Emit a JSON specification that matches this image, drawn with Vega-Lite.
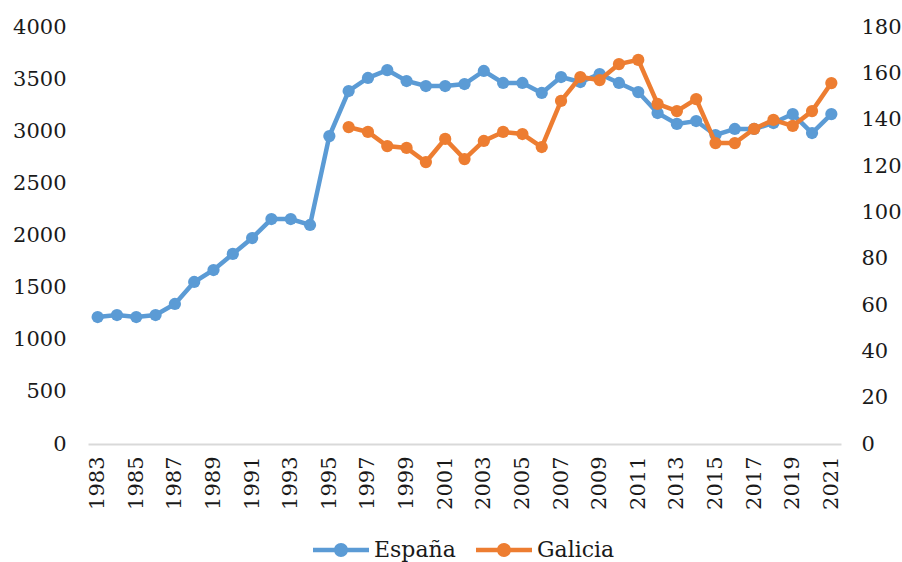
{
  "$schema": "https://vega.github.io/schema/vega-lite/v6.json",
  "width": 753,
  "height": 417,
  "autosize": {"type": "none"},
  "padding": {"left": 88, "top": 27, "right": 61, "bottom": 118},
  "background": "white",
  "config": {
    "view": {"stroke": null},
    "font": "DejaVu Serif",
    "axis": {"labelFont": "DejaVu Serif", "labelFontSize": 21, "labelColor": "#1a1a1a", "grid": false, "ticks": false, "title": null}
  },
  "data": {
    "values": [
      {"year": 1983, "serie": "España", "value": 1218},
      {"year": 1984, "serie": "España", "value": 1237},
      {"year": 1985, "serie": "España", "value": 1218},
      {"year": 1986, "serie": "España", "value": 1237},
      {"year": 1987, "serie": "España", "value": 1343},
      {"year": 1988, "serie": "España", "value": 1554},
      {"year": 1989, "serie": "España", "value": 1669},
      {"year": 1990, "serie": "España", "value": 1823},
      {"year": 1991, "serie": "España", "value": 1976},
      {"year": 1992, "serie": "España", "value": 2158},
      {"year": 1993, "serie": "España", "value": 2158},
      {"year": 1994, "serie": "España", "value": 2101},
      {"year": 1995, "serie": "España", "value": 2954},
      {"year": 1996, "serie": "España", "value": 3386},
      {"year": 1997, "serie": "España", "value": 3511},
      {"year": 1998, "serie": "España", "value": 3587},
      {"year": 1999, "serie": "España", "value": 3482},
      {"year": 2000, "serie": "España", "value": 3434},
      {"year": 2001, "serie": "España", "value": 3434},
      {"year": 2002, "serie": "España", "value": 3453},
      {"year": 2003, "serie": "España", "value": 3578},
      {"year": 2004, "serie": "España", "value": 3463},
      {"year": 2005, "serie": "España", "value": 3463},
      {"year": 2006, "serie": "España", "value": 3367},
      {"year": 2007, "serie": "España", "value": 3520},
      {"year": 2008, "serie": "España", "value": 3472},
      {"year": 2009, "serie": "España", "value": 3549},
      {"year": 2010, "serie": "España", "value": 3463},
      {"year": 2011, "serie": "España", "value": 3376},
      {"year": 2012, "serie": "España", "value": 3175},
      {"year": 2013, "serie": "España", "value": 3070},
      {"year": 2014, "serie": "España", "value": 3098},
      {"year": 2015, "serie": "España", "value": 2964},
      {"year": 2016, "serie": "España", "value": 3022},
      {"year": 2017, "serie": "España", "value": 3022},
      {"year": 2018, "serie": "España", "value": 3079},
      {"year": 2019, "serie": "España", "value": 3165},
      {"year": 2020, "serie": "España", "value": 2983},
      {"year": 2021, "serie": "España", "value": 3165},
      {"year": 1996, "serie": "Galicia", "value": 136.8},
      {"year": 1997, "serie": "Galicia", "value": 134.7},
      {"year": 1998, "serie": "Galicia", "value": 128.6},
      {"year": 1999, "serie": "Galicia", "value": 127.8},
      {"year": 2000, "serie": "Galicia", "value": 121.7},
      {"year": 2001, "serie": "Galicia", "value": 131.7},
      {"year": 2002, "serie": "Galicia", "value": 123.0},
      {"year": 2003, "serie": "Galicia", "value": 130.8},
      {"year": 2004, "serie": "Galicia", "value": 134.7},
      {"year": 2005, "serie": "Galicia", "value": 133.8},
      {"year": 2006, "serie": "Galicia", "value": 128.2},
      {"year": 2007, "serie": "Galicia", "value": 148.1},
      {"year": 2008, "serie": "Galicia", "value": 158.4},
      {"year": 2009, "serie": "Galicia", "value": 157.1},
      {"year": 2010, "serie": "Galicia", "value": 164.0},
      {"year": 2011, "serie": "Galicia", "value": 165.8},
      {"year": 2012, "serie": "Galicia", "value": 146.8},
      {"year": 2013, "serie": "Galicia", "value": 143.7},
      {"year": 2014, "serie": "Galicia", "value": 148.9},
      {"year": 2015, "serie": "Galicia", "value": 129.9},
      {"year": 2016, "serie": "Galicia", "value": 129.9},
      {"year": 2017, "serie": "Galicia", "value": 136.0},
      {"year": 2018, "serie": "Galicia", "value": 139.9},
      {"year": 2019, "serie": "Galicia", "value": 137.3},
      {"year": 2020, "serie": "Galicia", "value": 143.7},
      {"year": 2021, "serie": "Galicia", "value": 155.8}
    ]
  },
  "encoding": {
    "x": {
      "field": "year",
      "type": "ordinal",
      "scale": {"type": "point", "padding": 0.5},
      "axis": {
        "values": [1983,1985,1987,1989,1991,1993,1995,1997,1999,2001,2003,2005,2007,2009,2011,2013,2015,2017,2019,2021],
        "labelAngle": -90,
        "labelPadding": 12,
        "domainColor": "#d9d9d9",
        "domainWidth": 2
      }
    },
    "color": {
      "field": "serie",
      "type": "nominal",
      "scale": {"domain": ["España", "Galicia"], "range": ["#5B9BD5", "#ED7D31"]},
      "legend": {
        "title": null,
        "orient": "none",
        "direction": "horizontal",
        "legendX": 225,
        "legendY": 495,
        "padding": 0,
        "labelFont": "DejaVu Serif",
        "labelFontSize": 22,
        "labelColor": "#1a1a1a",
        "labelOffset": 5,
        "columnPadding": 20,
        "symbolSize": 3136,
        "symbolType": "M-1,-0.08H1V0.08H-1Z M0.25,0A0.25,0.25,0,1,1,-0.25,0A0.25,0.25,0,1,1,0.25,0Z",
        "symbolStrokeWidth": 0,
        "encode": {
          "symbols": {"update": {"fill": {"scale": "color", "field": "value"}, "stroke": {"value": "transparent"}, "opacity": {"value": 1}}}
        }
      }
    }
  },
  "layer": [
    {
      "transform": [{"filter": "datum.serie === 'España'"}],
      "mark": {"type": "line", "strokeWidth": 4.5, "point": {"filled": true, "size": 150, "opacity": 1}},
      "encoding": {
        "y": {
          "field": "value",
          "type": "quantitative",
          "scale": {"domain": [0, 4000], "nice": false},
          "axis": {"orient": "left", "values": [0,500,1000,1500,2000,2500,3000,3500,4000], "domain": false, "labelPadding": 22, "format": "d"}
        }
      }
    },
    {
      "transform": [{"filter": "datum.serie === 'Galicia'"}],
      "mark": {"type": "line", "strokeWidth": 4.5, "point": {"filled": true, "size": 150, "opacity": 1}},
      "encoding": {
        "y": {
          "field": "value",
          "type": "quantitative",
          "scale": {"domain": [0, 180], "nice": false},
          "axis": {"orient": "right", "values": [0,20,40,60,80,100,120,140,160,180], "domain": false, "labelPadding": 20, "format": "d"}
        }
      }
    }
  ],
  "resolve": {"scale": {"y": "independent"}}
}
